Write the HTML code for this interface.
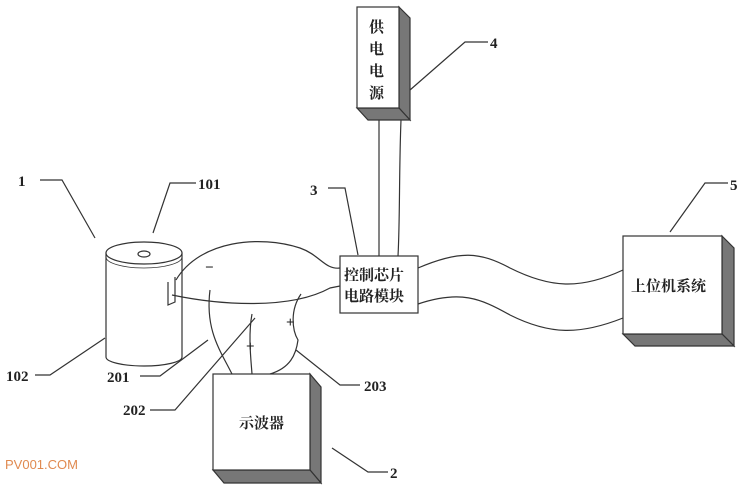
<!DOCTYPE html>
<html><head><meta charset="utf-8"><style>
body{margin:0;background:#fff}
svg{display:block}
text{font-family:"Liberation Serif","Noto Serif CJK SC",serif;fill:#222}
</style></head><body>
<svg width="750" height="489" viewBox="0 0 750 489" xmlns="http://www.w3.org/2000/svg">
<g stroke="#333" stroke-width="1.2" fill="none">
<polygon points="399,7 410,18 410,120 399,108" fill="#777"/>
<polygon points="357,108 399,108 410,120 368,120" fill="#777"/>
<rect x="357" y="7" width="42" height="101" fill="#fff"/>
<line x1="379" y1="120" x2="379" y2="256"/>
<path d="M401,120 C399,170 400,220 398,256"/>
<rect x="340" y="256" width="78" height="57" fill="#fff"/>
<polygon points="722,236 734,248 734,346 722,334" fill="#777"/>
<polygon points="623,334 722,334 734,346 635,346" fill="#777"/>
<rect x="623" y="236" width="99" height="98" fill="#fff"/>
<polygon points="310,374 321,387 321,483 310,470" fill="#777"/>
<polygon points="213,470 310,470 321,483 224,483" fill="#777"/>
<rect x="213" y="374" width="97" height="96" fill="#fff"/>
<path d="M418,268 C460,250 480,252 510,268 C550,288 580,290 623,270"/>
<path d="M418,304 C460,290 480,298 510,315 C550,335 580,335 623,318"/>
<path d="M106,253 L106,357 A38,9 0 0 0 182,357 L182,253" fill="#fff"/>
<ellipse cx="144" cy="253" rx="38" ry="11" fill="#fff"/>
<path d="M106,257 A38,11 0 0 0 182,257" stroke-width="0.8"/>
<ellipse cx="144" cy="254" rx="6" ry="3"/>
<path d="M175,277 L175,302 L168,305 L168,282"/>
<path d="M176,280 C200,240 260,235 300,248 C320,255 325,270 340,268"/>
<path d="M172,295 C220,305 290,310 330,288 L340,286"/>
<path d="M210,290 C205,330 220,350 232,374"/>
<path d="M252,314 C248,335 251,360 252,374"/>
<path d="M301,294 C290,310 292,330 298,340 C296,355 290,368 270,374"/>
<polyline points="40,180 62,180 95,238"/>
<polyline points="196,183 170,183 153,233"/>
<polyline points="35,375 50,375 105,338"/>
<polyline points="140,376 160,376 208,340"/>
<polyline points="150,410 175,410 255,318"/>
<polyline points="360,385 340,385 296,350"/>
<polyline points="328,188 345,188 358,255"/>
<polyline points="488,42 465,42 410,90"/>
<polyline points="728,183 705,183 670,232"/>
<polyline points="388,472 368,472 332,448"/>
</g>
<g font-weight="bold" font-size="15">
<text x="18" y="186">1</text>
<text x="198" y="189">101</text>
<text x="6" y="381">102</text>
<text x="107" y="382">201</text>
<text x="123" y="415">202</text>
<text x="364" y="391">203</text>
<text x="310" y="195">3</text>
<text x="490" y="48">4</text>
<text x="730" y="190">5</text>
<text x="390" y="478">2</text>
</g>
<g font-size="15" font-weight="bold">
<text x="205" y="272">−</text>
<text x="286" y="327">+</text>
<text x="246" y="351">+</text>
<text x="369" y="32">供</text>
<text x="369" y="54">电</text>
<text x="369" y="76">电</text>
<text x="369" y="98">源</text>
<text x="344" y="280">控制芯片</text>
<text x="344" y="301">电路模块</text>
<text x="631" y="291">上位机系统</text>
<text x="239" y="428">示波器</text>
</g>
<text x="5" y="469" style="font-family:'Liberation Sans',sans-serif;font-size:13px;fill:#e08a50">PV001.COM</text>
</svg>
</body></html>
